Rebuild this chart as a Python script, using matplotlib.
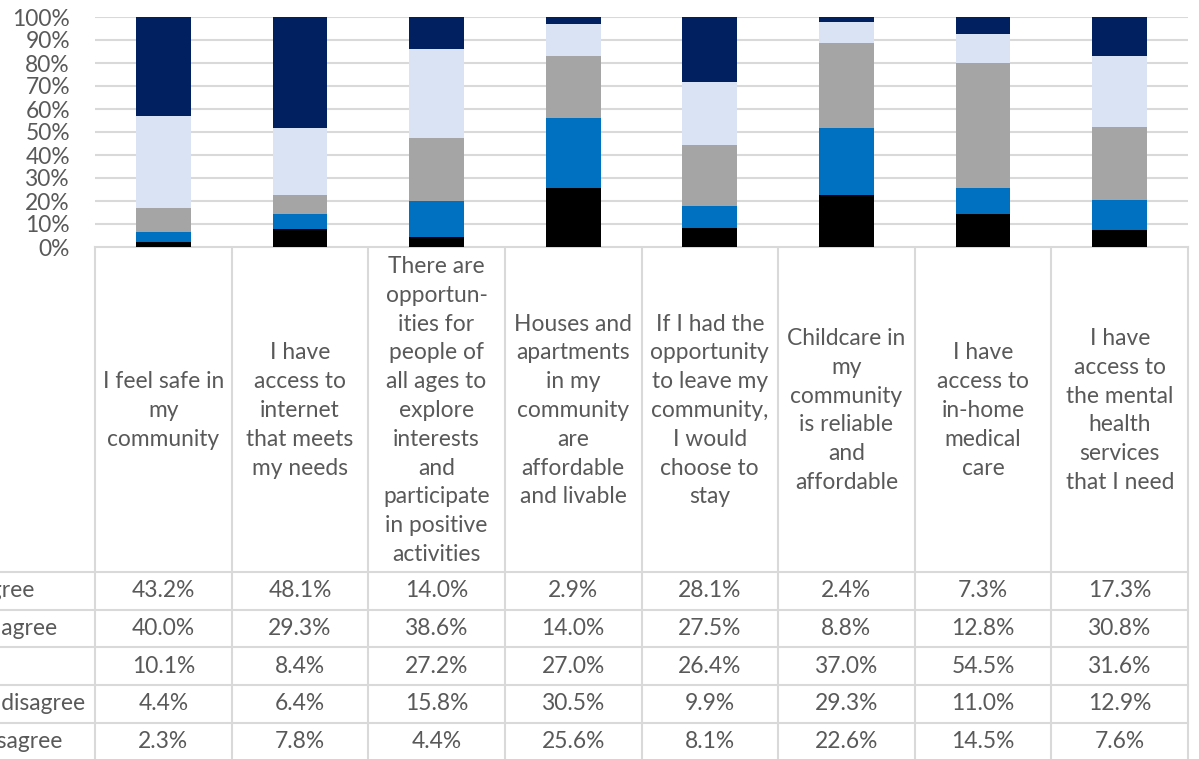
import matplotlib.pyplot as plt
import numpy as np

plt.rcParams['font.family'] = ['Lato', 'DejaVu Sans']

questions = [
    "I feel safe in\nmy\ncommunity",
    "I have\naccess to\ninternet\nthat meets\nmy needs",
    "There are\nopportun-\nities for\npeople of\nall ages to\nexplore\ninterests\nand\nparticipate\nin positive\nactivities",
    "Houses and\napartments\nin my\ncommunity\nare\naffordable\nand livable",
    "If I had the\nopportunity\nto leave my\ncommunity,\nI would\nchoose to\nstay",
    "Childcare in\nmy\ncommunity\nis reliable\nand\naffordable",
    "I have\naccess to\nin-home\nmedical\ncare",
    "I have\naccess to\nthe mental\nhealth\nservices\nthat I need",
]

responses = ["Strongly agree", "Somewhat agree", "Neutral",
             "Somewhat disagree", "Strongly disagree"]

strongly_agree = [43.2, 48.1, 14.0, 2.9, 28.1, 2.4, 7.3, 17.3]
somewhat_agree = [40.0, 29.3, 38.6, 14.0, 27.5, 8.8, 12.8, 30.8]
neutral = [10.1, 8.4, 27.2, 27.0, 26.4, 37.0, 54.5, 31.6]
somewhat_disagree = [4.4, 6.4, 15.8, 30.5, 9.9, 29.3, 11.0, 12.9]
strongly_disagree = [2.3, 7.8, 4.4, 25.6, 8.1, 22.6, 14.5, 7.6]

series = [strongly_agree, somewhat_agree, neutral, somewhat_disagree, strongly_disagree]
colors = ["#002060", "#DAE3F3", "#A5A5A5", "#0070C0", "#000000"]

txt = "#595959"
grid = "#D9D9D9"
fs = 16.4
W, H = 1199, 759
left, right = 95, 1188
top0, base = 17, 247
ncol = len(questions)
colw = (right - left) / ncol

fig = plt.figure(figsize=(W / 100, H / 100), dpi=100)

# stacked bars
ax = fig.add_axes([left / W, 1 - base / H, (right - left) / W, (base - top0) / H])
x = np.arange(ncol)
bottom = np.zeros(ncol)
for vals, c in zip(series[::-1], colors[::-1]):
    ax.bar(x, vals, bottom=bottom, width=0.4, color=c, zorder=3)
    bottom += np.array(vals)
ax.set_xlim(-0.5, ncol - 0.5)
ax.set_ylim(0, 100)
ax.set_yticks(np.arange(0, 101, 10))
ax.set_yticklabels([f"{v}%" for v in range(0, 101, 10)], fontsize=fs, color=txt)
ax.tick_params(axis='y', length=0, pad=18)
ax.set_xticks([])
ax.grid(axis='y', color=grid, linewidth=1.5, zorder=0)
for s in ax.spines.values():
    s.set_visible(False)

# data table underneath, in pixel coordinates
tab = fig.add_axes([0, 0, 1, 1], zorder=-1)
tab.set_xlim(0, W)
tab.set_ylim(H, 0)
tab.axis('off')

head_bottom = 572
rowh = 37.7
row_lines = [head_bottom + i * rowh for i in range(len(responses))]
lw = 1.5

tab.plot([left, right], [base, base], color=grid, lw=lw)
for i in range(ncol + 1):
    xc = left + i * colw
    tab.plot([xc, xc], [base, H], color=grid, lw=lw)
for yl in row_lines:
    tab.plot([0, right], [yl, yl], color=grid, lw=lw)

for i, q in enumerate(questions):
    tab.text(left + (i + 0.5) * colw, (base + head_bottom) / 2 + 1, q,
             ha='center', va='center', fontsize=fs, color=txt, linespacing=1.46)

# row labels run off the left edge, as in the original export
for r, (name, vals) in enumerate(zip(responses, series)):
    yc = head_bottom + (r + 0.5) * rowh
    tab.text(-111, yc, name, ha='left', va='center', fontsize=fs, color=txt)
    for i, v in enumerate(vals):
        tab.text(left + (i + 0.5) * colw, yc, f"{v:.1f}%",
                 ha='center', va='center', fontsize=fs, color=txt)

fig.savefig("out.png", dpi=100)
